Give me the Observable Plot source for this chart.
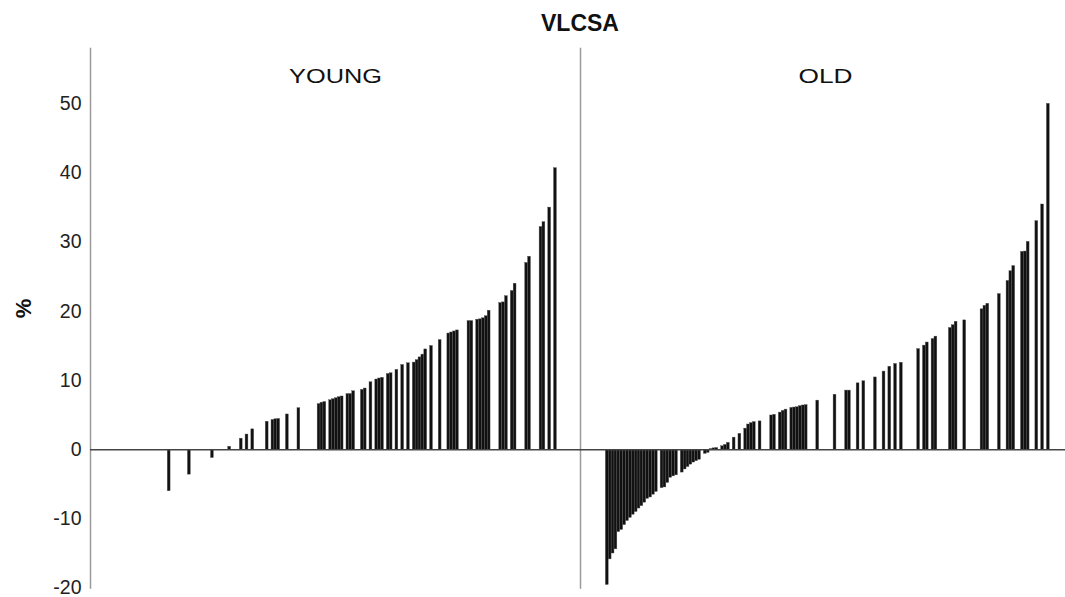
<!DOCTYPE html>
<html><head><meta charset="utf-8">
<script src="https://cdn.jsdelivr.net/npm/d3@7"></script>
<script src="https://cdn.jsdelivr.net/npm/@observablehq/plot@0.6"></script>
<style>
html,body{margin:0;padding:0;background:#fff;overflow:hidden;}
#title{height:42px;box-sizing:border-box;padding-left:90px;width:1070px;text-align:center;font:bold 23px "Liberation Sans",Arial,sans-serif;line-height:46px;color:#111;}
#chart svg{max-width:none !important;height:555px !important;}
</style></head><body>
<div id="title">VLCSA</div>
<div id="chart"></div>
<script>
const groups = ["YOUNG", "OLD"];
const yTicks = [-20, -10, 0, 10, 20, 30, 40, 50];
const youngValues = [
  -6.0, -3.6, -1.2, 0.43, 1.6, 2.2, 2.95, 4.05, 4.3, 4.4, 4.45, 5.1, 6.0,
  6.6, 6.8, 6.9, 7.15, 7.3, 7.45, 7.6, 7.7, 8.05, 8.05, 8.45, 8.65, 8.85,
  9.75, 10.15, 10.3, 10.4, 10.95, 11.05, 11.55, 12.25, 12.5, 12.6, 12.95,
  13.35, 13.75, 14.5, 15.0, 15.85, 16.8, 16.95, 17.1, 17.25, 18.6, 18.6,
  18.8, 18.85, 19.0, 19.3, 20.1, 21.2, 21.3, 22.2, 22.95, 24.0, 27.0, 27.9,
  32.2, 32.9, 35.0, 40.7
];
const oldValues = [
  -19.55, -15.85, -15.0, -14.4, -11.9, -11.6, -10.9, -10.3, -9.85, -9.4,
  -9.0, -8.5, -8.15, -7.65, -7.1, -6.9, -6.5, -6.1,
  -5.55, -5.45, -4.8, -4.05, -3.85, -3.7,
  -3.3, -2.85, -2.5, -2.15, -1.85, -1.65, -1.45,
  -0.6, -0.45, 0.1, 0.2, 0.25,
  0.5, 0.7, 1.0, 1.75, 2.3, 3.05, 3.65, 3.85, 4.0, 4.1, 4.95, 5.05,
  5.37, 5.62, 5.8, 6.05, 6.1, 6.15, 6.3, 6.4, 6.45, 7.1, 7.95, 8.55, 8.55,
  9.6, 9.9, 10.45, 11.3, 12.0, 12.4, 12.58, 14.55, 15.05, 15.5, 16.0, 16.35,
  17.6, 18.0, 18.5, 18.7, 20.3, 20.8, 21.1, 22.5, 24.4, 25.8, 26.55,
  28.6, 28.65, 30.05, 33.05, 35.45, 50.0
];

const rows = [
  ...youngValues.map(v => ({group: "YOUNG", value: v})),
  ...oldValues.map(v => ({group: "OLD", value: v}))
].sort((a, b) => a.value - b.value).map((d, i) => ({...d, rank: i}));

const font = '"Liberation Sans", Arial, Helvetica, sans-serif';

const chart = Plot.plot({
  width: 1070, height: 555,
  marginLeft: 90, marginRight: 0, marginTop: 6, marginBottom: 9.4,
  style: {fontFamily: font, background: "#fff", color: "#111", maxWidth: "none"},
  fx: {domain: groups, padding: 0, axis: null, label: null},
  x: {type: "band", domain: rows.map(d => d.rank), paddingInner: 0.02, paddingOuter: 8, align: 0.55, axis: null},
  y: {domain: [-20, 58], axis: null},
  marks: [
    Plot.frame({anchor: "left", stroke: "#9a9a9a", strokeWidth: 1.5}),
    Plot.barY(rows, {fx: "group", x: "rank", y: "value", fill: "#111", stroke: "#555", strokeWidth: 0.4}),
    Plot.ruleY([0], {stroke: "#444", strokeWidth: 1.5}),
    Plot.axisY(yTicks, {tickSize: 0, tickPadding: 9, fontSize: 19.5, fill: "#222", label: null, tickFormat: d => String(d)}),
    Plot.text(["%"], {fx: () => "YOUNG", text: d => d, frameAnchor: "left", dx: -67, rotate: -90, fontSize: 22, fontWeight: "bold", fill: "#111"}),
    Plot.text(groups, {fx: d => d, text: d => d, frameAnchor: "top", dy: 20.5, fontSize: 20, fill: "#111"})
  ]
});
document.getElementById("chart").appendChild(chart);

// facet labels appear horizontally widened in the reference
const widths = {YOUNG: 93, OLD: 54};
d3.select(chart).selectAll("text").each(function() {
  const t = this.textContent;
  if (widths[t]) {
    this.setAttribute("textLength", widths[t]);
    this.setAttribute("lengthAdjust", "spacingAndGlyphs");
  }
});
</script>
</body></html>
